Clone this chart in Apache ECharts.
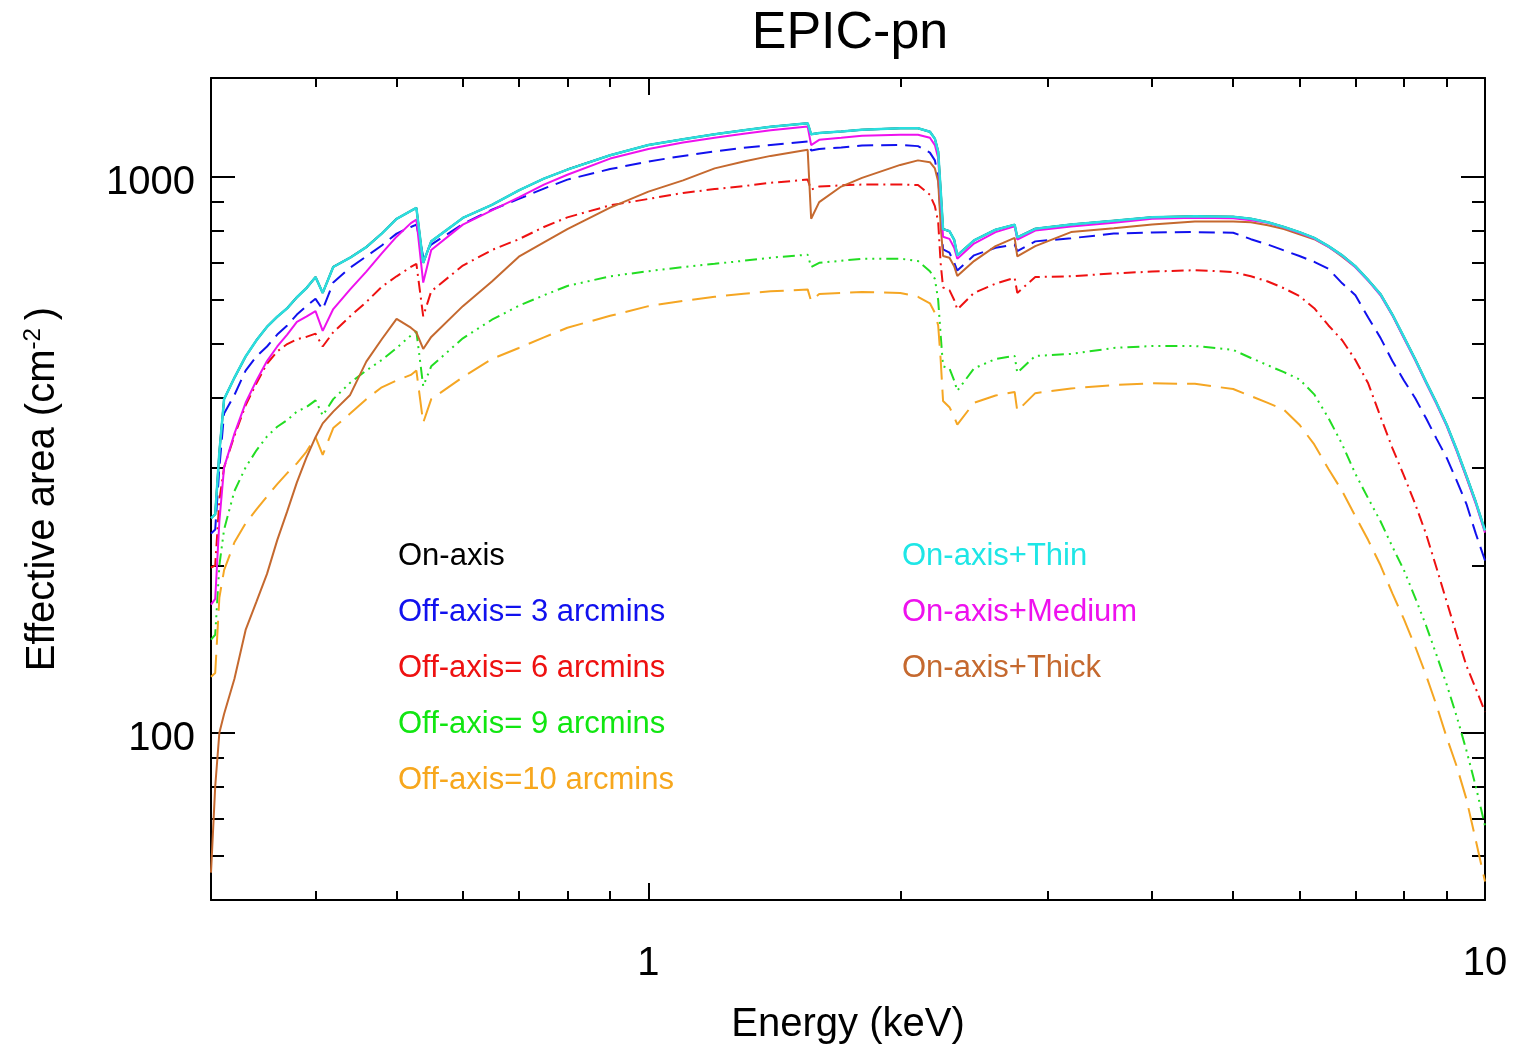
<!DOCTYPE html>
<html>
<head>
  <meta charset="utf-8">
  <title>EPIC-pn</title>
  <style>
    html, body {
      margin: 0;
      padding: 0;
      background: #fff;
    }

    #chart {
      width: 1514px;
      height: 1050px;
    }
  </style>
</head>

<body>
  <div id="chart"></div>
</body>
<script src="https://cdn.jsdelivr.net/npm/echarts@6/dist/echarts.min.js"></script>
<script>
  // energies in keV (shared by every curve)
  var energy = [0.300, 0.3035, 0.307, 0.311, 0.32, 0.33, 0.34, 0.35, 0.36, 0.37, 0.38, 0.39, 0.400, 0.408, 0.42,
    0.44, 0.46, 0.48, 0.50, 0.52, 0.528, 0.538, 0.55, 0.6, 0.65, 0.7, 0.75, 0.8, 0.9, 1.0, 1.1, 1.2, 1.3, 1.4,
    1.55, 1.565, 1.6, 1.7, 1.8, 2.0, 2.1, 2.17, 2.2, 2.22, 2.235, 2.25, 2.29, 2.32, 2.34, 2.45, 2.6, 2.74, 2.76,
    2.9, 3.2, 3.6, 4.0, 4.5, 5.0, 5.25, 5.5, 5.75, 6.0, 6.25, 6.5, 6.75, 7.0, 7.25, 7.5, 7.75, 8.0, 8.25, 8.5,
    8.75, 9.0, 9.25, 9.5, 9.75, 10];

  // effective area in cm^2
  var onAxis = [243, 247, 320, 398, 435, 475, 508, 537, 560, 580, 607, 630, 660, 618, 688,
    715, 747, 790, 840, 868, 879, 700, 765, 843, 890, 945, 992, 1030, 1093, 1140, 1168, 1192, 1212, 1230,
    1248, 1192, 1198, 1206, 1215, 1222, 1222, 1205, 1170, 1110, 950, 805, 798, 770, 722, 768, 803, 820, 778,
    806, 820, 833, 845, 849, 847, 840, 828, 812, 795, 776, 750, 722, 690, 652, 615, 565, 515, 470, 428,
    392, 358, 323, 290, 260, 231];
  var off3 = [228, 232, 300, 375, 405, 448, 475, 495, 520, 540, 565, 585, 603, 577, 645,
    686, 719, 752, 790, 812, 820, 719, 755, 822, 872, 912, 952, 988, 1032, 1065, 1090, 1110, 1127, 1140,
    1157, 1115, 1122, 1128, 1138, 1140, 1135, 1105, 1070, 1000, 850, 740, 730, 700, 678, 722, 745, 755, 735,
    765, 775, 790, 794, 795, 793, 772, 755, 737, 720, 703, 683, 643, 612, 558, 513, 466, 430, 400, 368,
    338, 312, 284, 258, 228, 204];
  var off6 = [198, 200, 262, 300, 342, 388, 425, 461, 485, 500, 510, 515, 522, 495, 525,
    561, 595, 634, 662, 688, 697, 561, 622, 692, 738, 772, 812, 845, 888, 912, 935, 950, 962, 975,
    988, 948, 960, 965, 968, 968, 966, 928, 885, 830, 700, 632, 625, 600, 577, 618, 642, 658, 618,
    660, 662, 670, 675, 679, 674, 662, 648, 630, 610, 580, 540, 508, 468, 425, 370, 325, 290, 258, 228,
    198, 172, 150, 132, 120, 109];
  var off9 = [147, 150, 200, 232, 272, 300, 322, 341, 355, 365, 378, 385, 396, 372, 398,
    426, 448, 468, 492, 518, 527, 420, 456, 512, 553, 586, 612, 636, 662, 676, 688, 697, 706, 715,
    724, 688, 700, 706, 712, 712, 705, 676, 655, 600, 520, 456, 452, 430, 412, 452, 470, 476, 444,
    476, 480, 492, 496, 496, 488, 472, 458, 445, 432, 406, 368, 330, 292, 264, 240, 216, 196, 175, 156,
    138, 122, 107, 93, 80, 68];
  var off10 = [126, 128, 175, 196, 220, 238, 252, 266, 280, 293, 305, 320, 340, 316, 353,
    375, 398, 418, 430, 440, 448, 361, 398, 436, 470, 492, 514, 535, 562, 585, 598, 608, 616, 622,
    627, 597, 615, 618, 620, 618, 608, 592, 569, 540, 470, 395, 385, 370, 358, 392, 404, 410, 379,
    408, 416, 422, 425, 424, 415, 403, 392, 381, 358, 330, 298, 272, 245, 222, 200, 178, 160, 143, 127,
    112, 98, 87, 76, 64, 54];
  var thin = [243, 247, 320, 398, 435, 475, 508, 537, 560, 580, 607, 630, 660, 618, 688,
    715, 747, 790, 840, 868, 879, 700, 765, 843, 890, 945, 992, 1030, 1093, 1140, 1168, 1192, 1212, 1230,
    1248, 1192, 1198, 1206, 1215, 1222, 1222, 1205, 1170, 1110, 950, 805, 798, 770, 722, 768, 803, 820, 778,
    806, 820, 833, 845, 849, 847, 840, 828, 812, 795, 776, 750, 722, 690, 652, 615, 565, 515, 470, 428,
    392, 358, 323, 290, 260, 231];
  var medium = [170, 174, 240, 300, 345, 392, 430, 466, 495, 520, 548, 560, 573, 528, 578,
    627, 675, 728, 780, 825, 837, 645, 738, 820, 870, 918, 968, 1008, 1078, 1122, 1152, 1175, 1195, 1212,
    1231, 1140, 1165, 1175, 1185, 1190, 1190, 1175, 1140, 1080, 920, 780, 773, 745, 712, 758, 795, 814, 771,
    800, 814, 826, 840, 844, 842, 835, 826, 810, 793, 774, 748, 720, 687, 650, 612, 563, 512, 468, 426,
    390, 356, 321, 288, 258, 229];
  var thick = [56, 80, 100, 108, 125, 153, 172, 193, 222, 250, 282, 312, 340, 360, 378,
    405, 465, 510, 555, 535, 525, 490, 515, 585, 648, 718, 762, 805, 880, 940, 985, 1035, 1065, 1090,
    1118, 840, 900, 960, 995, 1050, 1070, 1062, 1035, 980, 820, 720, 715, 690, 663, 705, 750, 776, 719,
    750, 795, 808, 820, 831, 831, 828, 818, 805, 788, 772, 748, 718, 688, 651, 613, 564, 513, 469, 427,
    391, 357, 322, 288, 259, 230];

  // tick positions
  var xMajor = [1, 10];
  var xMinor = [0.4, 0.5, 0.6, 0.7, 0.8, 0.9, 2, 3, 4, 5, 6, 7, 8, 9];
  var yMajor = [100, 1000];
  var yMinor = [60, 70, 80, 90, 200, 300, 400, 500, 600, 700, 800, 900];

  var font = 'Liberation Sans, Arial, Helvetica, sans-serif';

  function pairs(values) {
    return energy.map(function (e, i) {
      return [e, values[i]];
    });
  }

  // one axis = one side of the frame with one tick length
  function frameAxis(position, min, max, ticks, len, line, label) {
    return {
      type: 'log',
      logBase: 10,
      position: position,
      min: min,
      max: max,
      axisLine: { show: line, onZero: false, lineStyle: { color: '#000', width: 2 } },
      axisTick: { show: true, inside: true, length: len, customValues: ticks, lineStyle: { color: '#000', width: 2 } },
      axisLabel: label ? Object.assign({ customValues: ticks, color: '#000', fontSize: 40, fontFamily: font, formatter: function (v) { return String(Math.round(v)); } }, label) : { show: false },
      splitLine: { show: false }
    };
  }

  function curve(name, values, color, type, width) {
    return {
      name: name,
      type: 'line',
      data: pairs(values),
      showSymbol: false,
      symbol: 'none',
      color: color,
      lineStyle: { color: color, width: width || 2, type: type || 'solid' },
      xAxisIndex: 0,
      yAxisIndex: 0,
      z: 2
    };
  }

  var chart = echarts.init(document.getElementById('chart'));

  var xBottom = frameAxis('bottom', 0.3, 10, xMajor, 17, true, { margin: 44 });
  xBottom.name = 'Energy (keV)';
  xBottom.nameLocation = 'middle';
  xBottom.nameGap = 105;
  xBottom.nameTextStyle = { fontSize: 40, color: '#000', fontFamily: font };

  // y tick labels sit a little below their ticks in the original
  var yLeft = frameAxis('left', 50, 1505, yMajor, 24, true, {
    margin: 16,
    formatter: function (v) { return '{n|' + Math.round(v) + '}'; },
    rich: { n: { fontSize: 40, color: '#000', fontFamily: font, lineHeight: 40, padding: [12, 0, 0, 0] } }
  });
  yLeft.name = '{a|Effective area (cm}{s|-2}{a|)}';
  yLeft.nameLocation = 'middle';
  yLeft.nameGap = 146;
  yLeft.nameTextStyle = {
    fontFamily: font,
    rich: {
      a: { fontSize: 40, color: '#000', fontFamily: font, lineHeight: 44 },
      s: { fontSize: 24, color: '#000', fontFamily: font, verticalAlign: 'top', lineHeight: 44, padding: [0, 8, 0, 0] }
    }
  };

  var option = {
    animation: false,
    backgroundColor: '#fff',
    title: {
      text: 'EPIC-pn',
      left: 845,
      top: 3,
      textAlign: 'center',
      textStyle: { fontSize: 52, fontWeight: 'normal', color: '#000', fontFamily: font }
    },
    grid: { left: 211, right: 29, top: 78, bottom: 148 },
    legend: [{
      orient: 'vertical',
      left: 392,
      top: 540,
      padding: 0,
      itemWidth: 0,
      itemHeight: 0,
      itemGap: 24,
      selectedMode: false,
      itemStyle: { opacity: 0 },
      lineStyle: { opacity: 0 },
      textStyle: { fontSize: 31, fontFamily: font, lineHeight: 32 },
      data: [
        { name: 'On-axis', textStyle: { color: '#000000' } },
        { name: 'Off-axis= 3 arcmins', textStyle: { color: '#1111ee' } },
        { name: 'Off-axis= 6 arcmins', textStyle: { color: '#ee1111' } },
        { name: 'Off-axis= 9 arcmins', textStyle: { color: '#11e611' } },
        { name: 'Off-axis=10 arcmins', textStyle: { color: '#f7a71d' } }
      ]
    }, {
      orient: 'vertical',
      left: 896,
      top: 540,
      padding: 0,
      itemWidth: 0,
      itemHeight: 0,
      itemGap: 24,
      selectedMode: false,
      itemStyle: { opacity: 0 },
      lineStyle: { opacity: 0 },
      textStyle: { fontSize: 31, fontFamily: font, lineHeight: 32 },
      data: [
        { name: 'On-axis+Thin', textStyle: { color: '#1ee6e6' } },
        { name: 'On-axis+Medium', textStyle: { color: '#ee11ee' } },
        { name: 'On-axis+Thick', textStyle: { color: '#c5692f' } }
      ]
    }],
    xAxis: [
      xBottom,
      frameAxis('bottom', 0.3, 10, xMinor, 9, false, null),
      frameAxis('top', 0.3, 10, xMajor, 17, true, null),
      frameAxis('top', 0.3, 10, xMinor, 9, false, null)
    ],
    yAxis: [
      yLeft,
      frameAxis('left', 50, 1505, yMinor, 13, false, null),
      frameAxis('right', 50, 1505, yMajor, 24, true, null),
      frameAxis('right', 50, 1505, yMinor, 13, false, null)
    ],
    series: [
      curve('On-axis', onAxis, '#000000'),
      curve('Off-axis= 3 arcmins', off3, '#1111ee', [16, 8]),
      curve('Off-axis= 6 arcmins', off6, '#ee1111', [12, 5, 2, 5]),
      curve('Off-axis= 9 arcmins', off9, '#22dd22', [12, 5, 2, 5, 2, 5, 2, 5]),
      curve('Off-axis=10 arcmins', off10, '#f5a623', [24, 10]),
      curve('On-axis+Thick', thick, '#c5692f'),
      curve('On-axis+Medium', medium, '#ee11ee'),
      curve('On-axis+Thin', thin, '#2adede', 'solid', 2.5)
    ]
  };

  chart.setOption(option);
</script>

</html>
